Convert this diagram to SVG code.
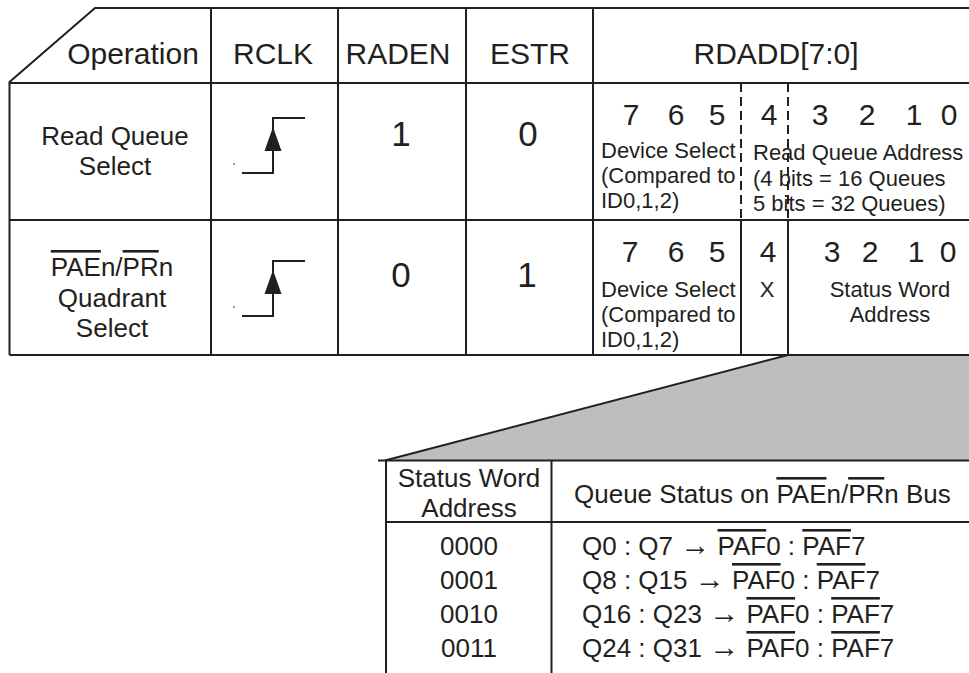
<svg xmlns="http://www.w3.org/2000/svg" width="969" height="673" viewBox="0 0 969 673">
<defs>
<style>
.ln{stroke:#231f20;stroke-width:2;fill:none}
.dash{stroke:#231f20;stroke-width:2;fill:none;stroke-dasharray:9 5}
text{font-family:"Liberation Sans",Arial,Helvetica,sans-serif;fill:#231f20}
.hd{font-size:30px;text-anchor:middle}
.bd{font-size:26px;text-anchor:middle}
.big{font-size:35px;text-anchor:middle}
.dg{font-size:30px;text-anchor:middle}
.sm{font-size:22px}
.smc{font-size:22px;text-anchor:middle}
.ov{text-decoration:overline}
.st{font-size:26px}
.ar{font-size:30px;font-family:"Liberation Serif","Times New Roman",serif}
</style>
<g id="clk">
<polyline class="ln" points="242,173 273,173 273,118 305,118"/>
<polygon points="273,127 264.5,151 281.5,151" fill="#231f20"/>
<circle cx="234" cy="164" r="0.9" fill="#777"/>
</g>
</defs>
<rect width="969" height="673" fill="#fff"/>

<g id="connectors">
<polygon points="788,355 969,355 969,460.5 385,460.5" fill="#bcbec0"/>
<line class="ln" x1="788" y1="355" x2="385" y2="460.5"/>
</g>

<g id="grid">
<polyline class="ln" points="969,8 95,8 9.5,82 9.5,355"/>
<line class="ln" x1="9.5" y1="83" x2="969" y2="83"/>
<line class="ln" x1="9.5" y1="220" x2="969" y2="220"/>
<line class="ln" x1="9.5" y1="355" x2="969" y2="355"/>
<line class="ln" x1="211" y1="8" x2="211" y2="355"/>
<line class="ln" x1="338" y1="8" x2="338" y2="355"/>
<line class="ln" x1="466" y1="8" x2="466" y2="355"/>
<line class="ln" x1="593" y1="8" x2="593" y2="355"/>
<line class="dash" x1="741" y1="83" x2="741" y2="220"/>
<line class="dash" x1="788" y1="83" x2="788" y2="220"/>
<line class="ln" x1="741" y1="220" x2="741" y2="355"/>
<line class="ln" x1="788" y1="220" x2="788" y2="355"/>
</g>

<g id="header">
<text class="hd" x="133" y="64">Operation</text>
<text class="hd" x="273" y="64">RCLK</text>
<text class="hd" x="398" y="64">RADEN</text>
<text class="hd" x="530" y="64">ESTR</text>
<text class="hd" x="776" y="64">RDADD[7:0]</text>
</g>

<g id="row-read-queue-select">
<text class="bd" x="115" y="145">Read Queue</text>
<text class="bd" x="115" y="175">Select</text>
<use href="#clk"/>
<text class="big" x="401" y="146">1</text>
<text class="big" x="528" y="146">0</text>
<text class="dg" x="631" y="125">7</text>
<text class="dg" x="676" y="125">6</text>
<text class="dg" x="717" y="125">5</text>
<text class="dg" x="769" y="125">4</text>
<text class="dg" x="820" y="125">3</text>
<text class="dg" x="867" y="125">2</text>
<text class="dg" x="914" y="125">1</text>
<text class="dg" x="949" y="125">0</text>
<text class="sm" x="601" y="158">Device Select</text>
<text class="sm" x="601" y="183">(Compared to</text>
<text class="sm" x="601" y="208">ID0,1,2)</text>
<text class="sm" x="753" y="160">Read Queue Address</text>
<text class="sm" x="753" y="186">(4 bits = 16 Queues</text>
<text class="sm" x="753" y="211">5 bits = 32 Queues)</text>
</g>

<g id="row-quadrant-select">
<text class="bd" x="112" y="276"><tspan class="ov">PAE</tspan>n/<tspan class="ov">PR</tspan>n</text>
<text class="bd" x="112" y="307">Quadrant</text>
<text class="bd" x="112" y="337">Select</text>
<use href="#clk" transform="translate(0,143)"/>
<text class="big" x="401" y="287">0</text>
<text class="big" x="527" y="287">1</text>
<text class="dg" x="630" y="262">7</text>
<text class="dg" x="676" y="262">6</text>
<text class="dg" x="717" y="262">5</text>
<text class="dg" x="768" y="262">4</text>
<text class="dg" x="832" y="262">3</text>
<text class="dg" x="870" y="262">2</text>
<text class="dg" x="916" y="262">1</text>
<text class="dg" x="948" y="262">0</text>
<text class="sm" x="601" y="297">Device Select</text>
<text class="sm" x="601" y="322">(Compared to</text>
<text class="sm" x="601" y="347">ID0,1,2)</text>
<text class="smc" x="767" y="297">X</text>
<text class="smc" x="890" y="297">Status Word</text>
<text class="smc" x="890" y="322">Address</text>
</g>

<g id="status-table">
<line class="ln" x1="378" y1="460.5" x2="969" y2="460.5"/>
<line class="ln" x1="386" y1="460" x2="386" y2="673"/>
<line class="ln" x1="551.5" y1="460" x2="551.5" y2="673"/>
<line class="ln" x1="386" y1="522" x2="969" y2="522"/>
<text class="bd" x="469" y="487">Status Word</text>
<text class="bd" x="469" y="517">Address</text>
<text class="st" x="574" y="503">Queue Status on <tspan class="ov">PAE</tspan>n/<tspan class="ov">PR</tspan>n Bus</text>
<text class="bd" x="469" y="555">0000</text>
<text class="bd" x="469" y="589">0001</text>
<text class="bd" x="469" y="623">0010</text>
<text class="bd" x="469" y="657">0011</text>
<text class="st" x="582" y="555">Q0 : Q7 <tspan class="ar">→</tspan> <tspan class="ov">PAF</tspan>0 : <tspan class="ov">PAF</tspan>7</text>
<text class="st" x="582" y="589">Q8 : Q15 <tspan class="ar">→</tspan> <tspan class="ov">PAF</tspan>0 : <tspan class="ov">PAF</tspan>7</text>
<text class="st" x="582" y="623">Q16 : Q23 <tspan class="ar">→</tspan> <tspan class="ov">PAF</tspan>0 : <tspan class="ov">PAF</tspan>7</text>
<text class="st" x="582" y="657">Q24 : Q31 <tspan class="ar">→</tspan> <tspan class="ov">PAF</tspan>0 : <tspan class="ov">PAF</tspan>7</text>
</g>
</svg>
